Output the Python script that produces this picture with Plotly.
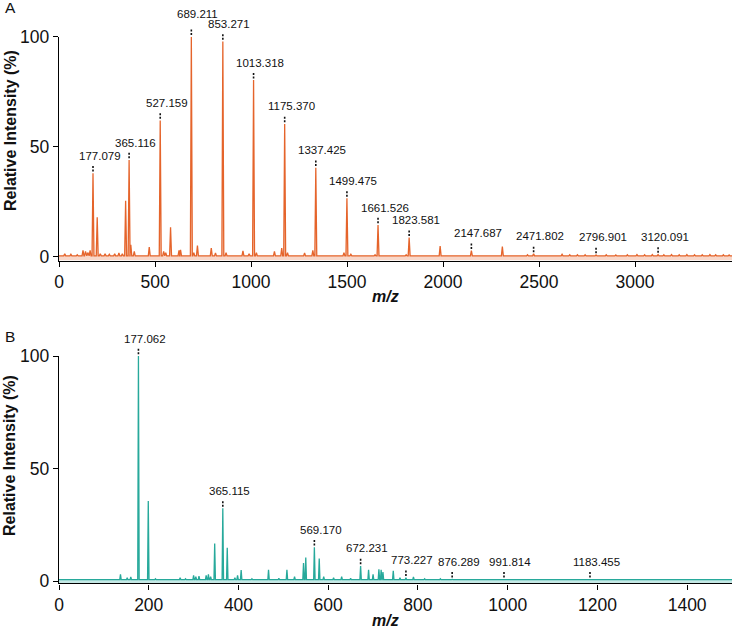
import plotly.graph_objects as go

# ---------------- data ----------------
# Panel A: peaks (m/z, relative intensity %)
a_mz = [30, 62, 95, 125, 138, 150, 162, 177.079, 199, 215, 240, 262, 290, 312, 330,
        347, 365.116, 374, 392, 470, 527.159, 545, 556, 581, 625, 633, 689.211, 702, 721,
        793, 815, 853.271, 870, 958, 990, 1013.318, 1028, 1122, 1160, 1175.370, 1190,
        1279, 1322, 1337.425, 1484, 1499.475, 1520, 1646, 1661.526, 1808, 1823.581,
        1985, 2147.687, 2309, 2440, 2471.802, 2620, 2660, 2700, 2740, 2796.901, 2850,
        2900, 2960, 3010, 3050, 3090, 3120.091, 3150, 3190, 3230, 3270, 3310, 3350,
        3390, 3420, 3460, 3490]
a_int = [1.5, 1.2, 1.0, 3.0, 2.5, 2.0, 3.0, 38.0, 18.0, 1.5, 1.5, 1.2, 1.5, 1.8, 1.5,
         25.5, 44.0, 5.5, 2.5, 4.5, 62.0, 2.5, 2.0, 13.5, 3.0, 3.2, 100.0, 2.0, 5.2,
         4.0, 1.8, 97.8, 2.0, 2.8, 1.5, 80.3, 2.0, 2.5, 4.0, 60.4, 2.0,
         1.8, 3.0, 40.5, 2.0, 26.6, 1.2, 1.0, 14.5, 1.0, 8.8,
         5.0, 2.9, 4.7, 1.0, 1.4, 1.2, 1.0, 1.0, 1.0, 0.9, 1.0,
         0.9, 1.0, 1.1, 1.0, 1.1, 1.1, 1.0, 1.1, 1.0, 1.1, 1.0, 1.0,
         1.1, 1.0, 1.0, 0.9]
a_labels = ["177.079", "365.116", "527.159", "689.211", "853.271", "1013.318",
            "1175.370", "1337.425", "1499.475", "1661.526", "1823.581", "2147.687",
            "2471.802", "2796.901", "3120.091"]

# Panel B: peaks (m/z, relative intensity %)
b_mz = [20, 100, 137, 152, 160, 177.062, 199, 215, 270, 282, 300, 305, 312, 328, 333,
        338, 347, 365.115, 375, 392, 398, 406, 430, 467, 490, 508, 525, 545, 550,
        569.170, 580, 590, 612, 630, 650, 672.231, 690, 700, 713, 718, 722, 745,
        760, 773.227, 790, 815, 850, 876.289, 905, 940, 970, 991.814, 1010, 1030,
        1140, 1165, 1183.455, 1210, 1365, 1405]
b_int = [0.6, 0.5, 3.0, 1.5, 1.8, 100.0, 35.6, 1.0, 1.5, 1.0, 2.5, 2.0, 2.2, 2.5, 3.0,
         2.0, 16.7, 32.3, 14.8, 1.5, 2.5, 4.9, 1.0, 5.0, 1.2, 5.0, 2.0, 8.0, 10.5,
         15.0, 10.0, 2.0, 1.5, 2.0, 1.2, 6.7, 5.0, 3.0, 5.2, 5.0, 4.0, 4.6,
         1.5, 1.5, 1.8, 1.0, 1.0, 0.8, 0.8, 0.8, 0.9, 0.8, 0.8, 0.7,
         0.7, 0.8, 0.8, 0.6, 0.6, 0.6]
b_labels = ["177.062", "365.115", "569.170", "672.231", "773.227", "876.289",
            "991.814", "1183.455"]

a_xticks = [0, 500, 1000, 1500, 2000, 2500, 3000]
b_xticks = [0, 200, 400, 600, 800, 1000, 1200, 1400]
y_ticks = [0, 50, 100]

# ---------------- styling / layout ----------------
W, H = 733, 628
FONT = "Liberation Sans, Arial, Helvetica, sans-serif"
ORANGE = "#E5642B"
ORANGE_FILL = "rgba(236,140,100,0.35)"
TEAL = "#27A99B"
TEAL_FILL = "rgba(90,190,180,0.35)"

X_LEFT, X_RIGHT = 59.0, 732.0
panels = [
    dict(mz=a_mz, ints=a_int, labels=a_labels, ticks=a_xticks, xmax=3505,
         ymin=-1.6, top=36.7, bottom=260.5, color=ORANGE, fill=ORANGE_FILL,
         hw=5.0, base=0.5, letter="A", letter_y=8, title_y=131, mz_y=297),
    dict(mz=b_mz, ints=b_int, labels=b_labels, ticks=b_xticks, xmax=1500,
         ymin=-1.0, top=356.0, bottom=583.3, color=TEAL, fill=TEAL_FILL,
         hw=1.6, base=0.6, letter="B", letter_y=336, title_y=456, mz_y=620),
]
label_raise_px = {"689.211": 5}

fig = go.Figure()
annotations = []
shapes = []

for i, p in enumerate(panels):
    xa = "x" if i == 0 else "x2"
    ya = "y" if i == 0 else "y2"
    ymax = 100.0
    dom = [1 - p["bottom"] / H, 1 - p["top"] / H]

    def to_paper(v, p=p, dom=dom, ymax=ymax):
        return dom[0] + (v - p["ymin"]) / (ymax - p["ymin"]) * (dom[1] - dom[0])

    px_paper = 1.0 / H

    # build spectrum profile from peak list
    order = sorted(range(len(p["mz"])), key=lambda k: p["mz"][k])
    xs, ys = [0.0], [p["base"]]
    for k in order:
        m, h = p["mz"][k], p["ints"][k]
        xs += [m - p["hw"], m, m + p["hw"]]
        ys += [p["base"], h, p["base"]]
    xs.append(p["xmax"])
    ys.append(p["base"])

    fig.add_trace(go.Scatter(x=[0, p["xmax"]], y=[p["ymin"], p["ymin"]], mode="lines",
                             line=dict(width=0, color=p["fill"]), xaxis=xa, yaxis=ya,
                             showlegend=False, hoverinfo="skip"))
    fig.add_trace(go.Scatter(x=xs, y=ys, mode="lines", fill="tonexty",
                             fillcolor=p["fill"], line=dict(color=p["color"], width=1.3),
                             xaxis=xa, yaxis=ya, showlegend=False))

    # dashed markers + labels (paper y so they are not clipped above 100 %)
    for lab in p["labels"]:
        m = float(lab)
        k = min(range(len(p["mz"])), key=lambda j: abs(p["mz"][j] - m))
        h = p["ints"][k]
        y_peak = to_paper(h)
        y0 = y_peak + 1.7 * px_paper
        y1 = y_peak + 8.5 * px_paper
        shapes.append(dict(type="line", xref=xa, yref="paper", x0=m, x1=m, y0=y0, y1=y1,
                           line=dict(color="#111", width=1.6, dash="2px,1.5px")))
        annotations.append(dict(x=m, y=y1, xref=xa, yref="paper", text=lab, showarrow=False,
                                xanchor="center", yanchor="bottom", xshift=6.5,
                                yshift=1 + label_raise_px.get(lab, 0),
                                font=dict(family=FONT, size=11.5, color="#111")))

    axis_common = dict(showline=True, linecolor="black", linewidth=1.4, ticks="outside",
                       ticklen=5, tickwidth=1.4, tickcolor="black", showgrid=False,
                       zeroline=False, automargin=False,
                       tickfont=dict(family=FONT, size=17.5, color="#111"))
    xkey = "xaxis" if i == 0 else "xaxis2"
    ykey = "yaxis" if i == 0 else "yaxis2"
    fig.update_layout(**{
        xkey: dict(range=[0, p["xmax"]], domain=[X_LEFT / W, X_RIGHT / W],
                   tickvals=p["ticks"], anchor=ya, **axis_common),
        ykey: dict(range=[p["ymin"], ymax], domain=dom,
                   tickvals=y_ticks, anchor=xa, **axis_common),
    })

    annotations.append(dict(x=10 / W, y=1 - p["letter_y"] / H, xref="paper", yref="paper",
                            text=p["letter"], showarrow=False, xanchor="center",
                            yanchor="middle", font=dict(family=FONT, size=15.5, color="#111")))
    annotations.append(dict(x=10 / W, y=1 - p["title_y"] / H, xref="paper", yref="paper",
                            text="<b>Relative Intensity (%)</b>", textangle=-90,
                            showarrow=False, xanchor="center", yanchor="middle",
                            font=dict(family=FONT, size=16, color="#111")))
    annotations.append(dict(x=385 / W, y=1 - p["mz_y"] / H, xref="paper", yref="paper",
                            text="<b><i>m/z</i></b>", showarrow=False, xanchor="center",
                            yanchor="middle", font=dict(family=FONT, size=16, color="#111")))

fig.update_layout(width=W, height=H, margin=dict(l=0, r=0, t=0, b=0, pad=0),
                  paper_bgcolor="white", plot_bgcolor="white",
                  annotations=annotations, shapes=shapes, showlegend=False)

# remove the default page margin so the figure sits at the window's top-left corner
fig.write_html("out.html", config={"displayModeBar": False},
               post_script="document.body.style.margin='0';document.body.style.overflow='hidden';")
